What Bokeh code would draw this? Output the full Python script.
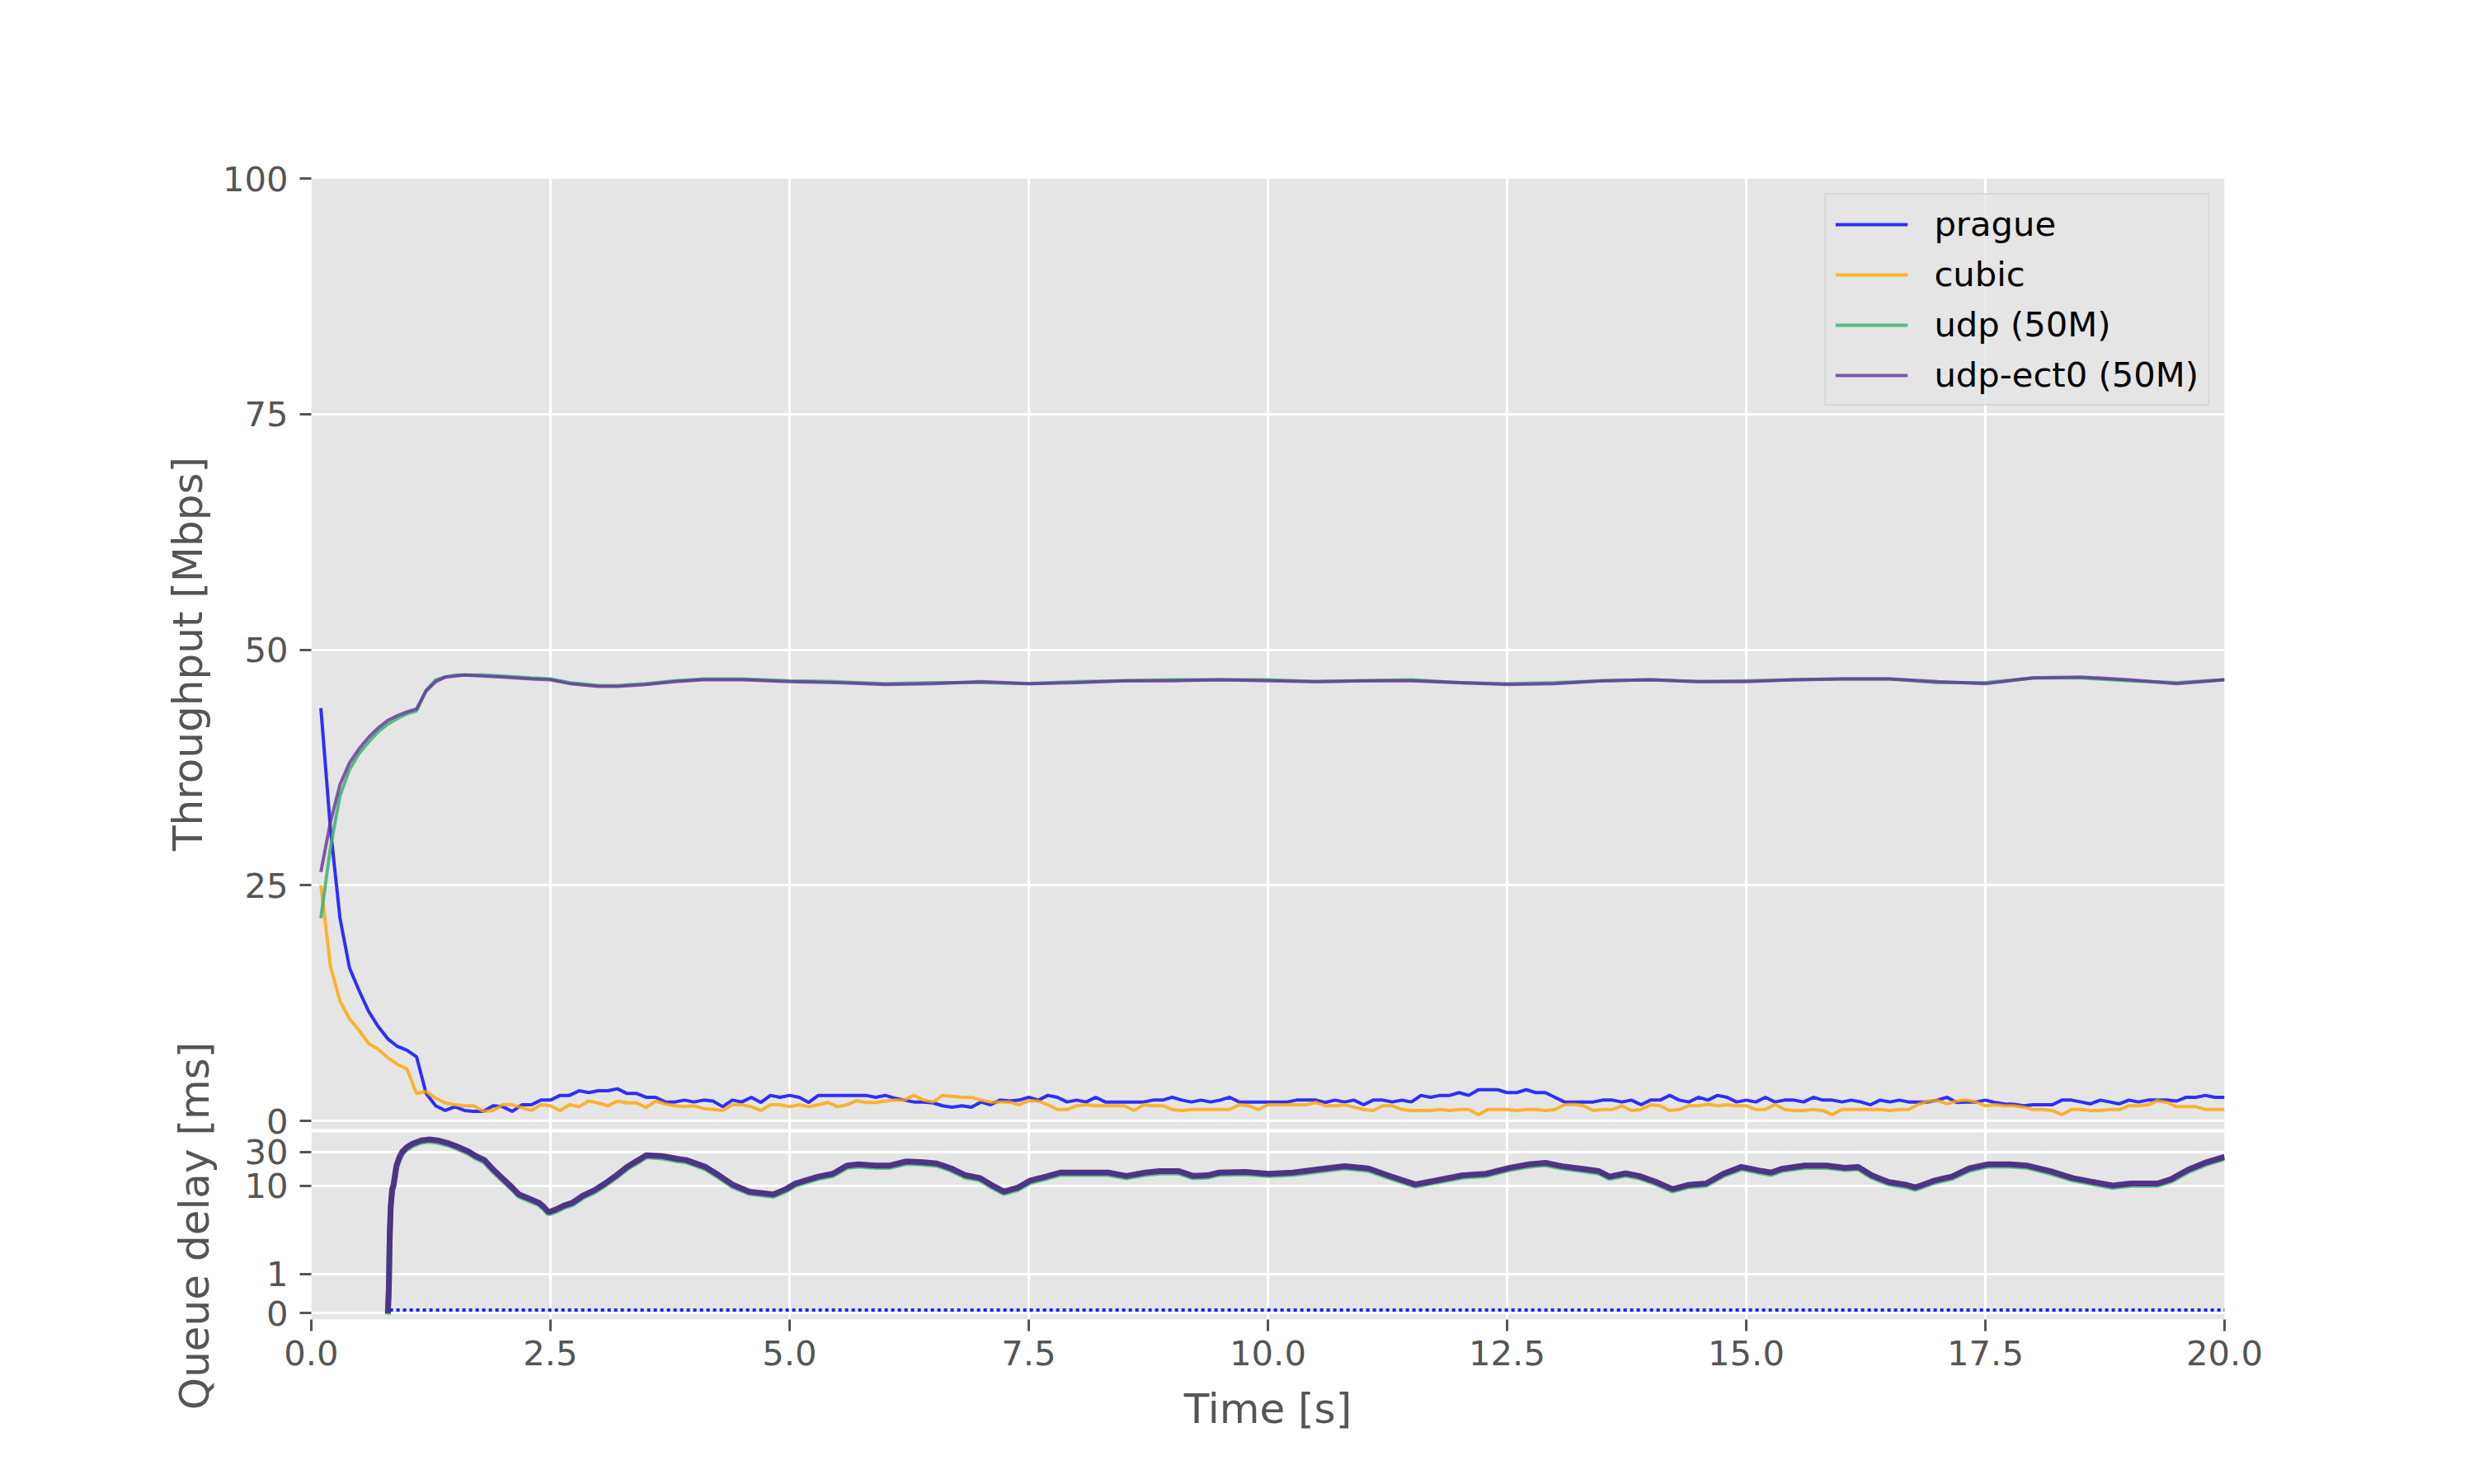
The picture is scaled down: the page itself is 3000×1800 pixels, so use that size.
import numpy as np
from bokeh.plotting import figure
from bokeh.layouts import row
from bokeh.models import (Range1d, FixedTicker, NumeralTickFormatter, CustomJSTickFormatter,
                          BoxAnnotation, Label, Legend, LegendItem)
from bokeh.embed import file_html
from bokeh.resources import INLINE

# ---------------- data ----------------
# throughput samples every 0.1 s (t = 0.1 ... 20.0)
time = [round(0.1 * i, 1) for i in range(1, 201)]

prague = [
    43.8, 31.0, 21.5, 16.2, 13.8, 11.6, 10.0, 8.7, 7.9, 7.5,
    6.8, 2.9, 1.6, 1.1, 1.5, 1.1, 1.0, 1.0, 1.6, 1.5,
    1.0, 1.7, 1.7, 2.2, 2.2, 2.7, 2.7, 3.2, 3.0, 3.2,
    3.2, 3.4, 2.9, 2.9, 2.5, 2.5, 2.0, 2.0, 2.2, 2.0,
    2.2, 2.1, 1.5, 2.2, 2.0, 2.5, 1.95, 2.7, 2.5, 2.7,
    2.5, 1.95, 2.7, 2.7, 2.7, 2.7, 2.7, 2.7, 2.5, 2.7,
    2.4, 2.2, 2.0, 2.0, 1.9, 1.6, 1.45, 1.6, 1.45, 2.0,
    1.7, 2.2, 2.1, 2.2, 2.5, 2.2, 2.7, 2.5, 2.0, 2.2,
    2.0, 2.5, 2.0, 2.0, 2.0, 2.0, 2.0, 2.2, 2.2, 2.5,
    2.2, 2.0, 2.2, 2.0, 2.2, 2.5, 2.0, 2.0, 2.0, 2.0,
    2.0, 2.0, 2.2, 2.2, 2.2, 1.95, 2.2, 2.0, 2.2, 1.7,
    2.2, 2.2, 2.0, 2.2, 2.0, 2.7, 2.5, 2.7, 2.7, 3.0,
    2.7, 3.3, 3.3, 3.3, 3.0, 3.0, 3.3, 3.0, 3.0, 2.5,
    2.0, 2.0, 2.0, 2.0, 2.2, 2.2, 2.0, 2.2, 1.7, 2.2,
    2.2, 2.7, 2.2, 2.0, 2.5, 2.2, 2.7, 2.5, 2.0, 2.2,
    2.0, 2.5, 2.0, 2.2, 2.2, 2.0, 2.5, 2.2, 2.2, 2.0,
    2.2, 2.0, 1.7, 2.2, 2.0, 2.2, 2.0, 2.0, 2.0, 2.2,
    2.5, 1.95, 2.0, 2.0, 2.2, 1.95, 1.8, 1.75, 1.6, 1.7,
    1.7, 1.7, 2.2, 2.2, 2.0, 1.8, 2.2, 2.0, 1.8, 2.2,
    2.0, 2.2, 2.2, 2.2, 2.1, 2.5, 2.5, 2.7, 2.5, 2.5,
]

cubic = [
    25.0, 16.4, 12.7, 10.8, 9.6, 8.2, 7.6, 6.7, 6.0, 5.5,
    2.9, 3.1, 2.4, 1.9, 1.7, 1.6, 1.6, 1.0, 1.1, 1.7,
    1.7, 1.4, 1.1, 1.7, 1.6, 1.1, 1.7, 1.5, 2.1, 1.9,
    1.6, 2.1, 1.9, 1.9, 1.4, 2.1, 1.8, 1.6, 1.5, 1.6,
    1.3, 1.2, 1.1, 1.7, 1.7, 1.5, 1.1, 1.7, 1.7, 1.5,
    1.7, 1.5, 1.7, 1.95, 1.5, 1.7, 2.15, 1.95, 1.95, 2.1,
    2.2, 2.2, 2.7, 2.2, 2.0, 2.7, 2.6, 2.5, 2.5, 2.2,
    2.0, 2.0, 2.0, 1.7, 2.15, 2.1, 1.7, 1.2, 1.2, 1.6,
    1.7, 1.6, 1.6, 1.6, 1.6, 1.1, 1.7, 1.6, 1.6, 1.2,
    1.1, 1.2, 1.2, 1.2, 1.2, 1.2, 1.7, 1.6, 1.2, 1.7,
    1.7, 1.7, 1.7, 1.7, 1.95, 1.6, 1.6, 1.7, 1.45, 1.2,
    1.1, 1.6, 1.6, 1.2, 1.1, 1.1, 1.1, 1.2, 1.1, 1.2,
    1.2, 0.65, 1.2, 1.2, 1.2, 1.1, 1.2, 1.2, 1.1, 1.2,
    1.7, 1.75, 1.6, 1.1, 1.2, 1.2, 1.6, 1.1, 1.2, 1.7,
    1.6, 1.1, 1.2, 1.6, 1.6, 1.75, 1.6, 1.7, 1.6, 1.6,
    1.2, 1.2, 1.75, 1.2, 1.1, 1.1, 1.2, 1.1, 0.65, 1.2,
    1.2, 1.2, 1.2, 1.2, 1.1, 1.2, 1.2, 1.75, 2.1, 2.15,
    1.8, 2.1, 2.2, 2.0, 1.6, 1.7, 1.6, 1.6, 1.45, 1.2,
    1.2, 1.1, 0.65, 1.2, 1.2, 1.1, 1.1, 1.2, 1.2, 1.6,
    1.6, 1.7, 2.15, 1.95, 1.5, 1.5, 1.5, 1.2, 1.2, 1.2,
]

udp_time = [0.1, 0.2, 0.3, 0.4, 0.5, 0.6, 0.7, 0.8, 0.9, 1.0, 1.1, 1.2, 1.3, 1.4, 1.5,
            1.6, 1.8, 2.0, 2.3, 2.5, 2.7, 3.0, 3.2, 3.5, 3.8, 4.1, 4.5,
            5.0, 5.5, 6.0, 6.5, 7.0, 7.5, 8.0, 8.5, 9.0, 9.5, 10.0, 10.5, 11.0, 11.5,
            12.0, 12.5, 13.0, 13.5, 14.0, 14.5, 15.0, 15.5, 16.0, 16.5, 17.0, 17.5,
            18.0, 18.5, 19.0, 19.5, 20.0]
udp = [21.5, 29.0, 34.5, 37.3, 39.0, 40.2, 41.3, 42.1, 42.7, 43.2, 43.5, 45.7, 46.8, 47.1, 47.3,
       47.3, 47.3, 47.2, 47.0, 46.9, 46.5, 46.2, 46.2, 46.4, 46.7, 46.9, 46.9,
       46.7, 46.6, 46.4, 46.5, 46.5, 46.4, 46.6, 46.7, 46.8, 46.8, 46.8, 46.6, 46.7, 46.8,
       46.5, 46.4, 46.5, 46.7, 46.8, 46.6, 46.7, 46.8, 46.9, 46.9, 46.5, 46.5,
       47.0, 47.0, 46.7, 46.5, 46.8]
udp_ect0 = [26.4, 31.7, 35.7, 38.0, 39.5, 40.7, 41.7, 42.5, 43.0, 43.4, 43.7, 45.6, 46.6, 47.1, 47.2,
            47.3, 47.2, 47.1, 46.9, 46.8, 46.4, 46.1, 46.1, 46.3, 46.6, 46.8, 46.8,
            46.6, 46.5, 46.3, 46.4, 46.6, 46.4, 46.5, 46.7, 46.7, 46.8, 46.7, 46.6, 46.7, 46.7,
            46.5, 46.3, 46.4, 46.7, 46.8, 46.6, 46.6, 46.8, 46.9, 46.9, 46.6, 46.4,
            47.0, 47.1, 46.8, 46.4, 46.8]

# queue delay [ms] of the classic queue (udp / cubic / udp-ect0 packets)
qd_time = [0.80, 0.81, 0.82, 0.83, 0.845, 0.86, 0.89, 0.92, 0.95, 0.99, 1.06, 1.15, 1.23, 1.32,
           1.43, 1.52, 1.64, 1.72, 1.81, 1.89, 1.98, 2.10, 2.17, 2.27, 2.38, 2.43, 2.48, 2.56,
           2.64, 2.73, 2.84, 2.96, 3.07, 3.19, 3.30, 3.42, 3.50, 3.67, 3.82, 3.92, 4.12, 4.26,
           4.41, 4.58, 4.83, 4.96, 5.06, 5.30, 5.45, 5.60, 5.72, 5.90, 6.04, 6.22, 6.40, 6.54,
           6.69, 6.84, 6.99, 7.11, 7.24, 7.39, 7.51, 7.68, 7.83, 8.03, 8.33, 8.52, 8.72, 8.87,
           9.07, 9.22, 9.37, 9.49, 9.76, 10.01, 10.26, 10.50, 10.80, 11.05, 11.25, 11.54, 11.74,
           12.04, 12.28, 12.53, 12.73, 12.90, 13.08, 13.32, 13.46, 13.57, 13.74, 13.88, 14.06,
           14.23, 14.39, 14.58, 14.76, 14.95, 15.14, 15.26, 15.37, 15.61, 15.84, 16.03, 16.17,
           16.31, 16.49, 16.68, 16.77, 16.96, 17.15, 17.33, 17.52, 17.76, 17.94, 18.18, 18.41,
           18.60, 18.83, 19.02, 19.30, 19.44, 19.62, 19.81, 20.00]
qd_classic = [0.0, 0.6, 2.0, 5.0, 8.9, 10.2, 19.2, 25.1, 30.0, 34.3, 39.3, 43.8, 45.1, 43.8,
              40.0, 36.0, 30.6, 26.2, 23.0, 17.5, 13.4, 9.4, 7.5, 6.6, 5.7, 5.0, 4.2, 4.6,
              5.2, 5.7, 7.2, 8.6, 10.7, 14.0, 18.4, 23.0, 27.0, 26.2, 24.0, 23.0, 18.4, 14.0,
              10.2, 8.2, 7.5, 8.9, 10.7, 13.4, 14.7, 19.2, 20.0, 19.2, 19.2, 22.0, 21.4, 20.6,
              17.5, 14.0, 12.8, 10.2, 8.2, 9.4, 11.7, 13.4, 15.3, 15.3, 15.3, 13.7, 15.3, 16.0,
              16.0, 13.7, 14.0, 15.3, 15.6, 14.7, 15.3, 16.8, 18.8, 17.5, 14.0, 10.4, 11.7,
              14.0, 14.7, 17.9, 20.0, 21.0, 18.8, 17.0, 16.0, 13.4, 14.9, 13.7, 11.2,
              8.9, 10.2, 10.7, 14.7, 18.4, 16.3, 15.3, 17.3, 19.2, 19.2, 17.9, 18.4,
              14.0, 11.2, 10.2, 9.4, 11.7, 13.4, 17.5, 20.0, 20.0, 19.2, 16.0, 12.8,
              11.4, 10.0, 10.7, 10.7, 12.3, 16.8, 21.4, 25.6]
# queue delay [ms] of the L4S queue (prague packets)
qd_l4s_time = [0.82, 20.0]
qd_l4s = [0.08, 0.08]

x_ticks = [0.0, 2.5, 5.0, 7.5, 10.0, 12.5, 15.0, 17.5, 20.0]
tp_ticks = [0, 25, 50, 75, 100]
qd_ticks = [0, 1, 10, 30]

# ---------------- layout (pixels of the 3000x1800 page) ----------------
W, H = 3000, 1800
LABEL_W = 266                       # strip on the left holding the y titles
FRAME_L, FRAME_R, FRAME_T, FRAME_B = 377, 2697, 216, 1600
TP_ZERO_PX = 1359.0                 # throughput 0 line
TOP_PANEL_BOTTOM_PX = 1369.0
BOT_PANEL_TOP_PX = 1373.0
Q_ZERO_PX = 1592.3                  # queue delay 0 line
Q_PX_PER_UNIT = 85.5                # per symlog unit
PX_PER_MBPS = (TP_ZERO_PX - FRAME_T) / 100.0
Y_LO = -(FRAME_B - TP_ZERO_PX) / PX_PER_MBPS

FONT = "DejaVu Sans"
GREY_TXT = "#555555"


def px_to_y(px):
    return (TP_ZERO_PX - px) / PX_PER_MBPS


def symlog(v, linthresh=2.0, base=10.0, linscale=1.0):
    v = np.asarray(v, dtype=float)
    ls = linscale / (1.0 - 1.0 / base)
    a = np.abs(v)
    out = np.where(a <= linthresh, a / linthresh * ls,
                   ls + np.log10(np.maximum(a, 1e-12) / linthresh) / np.log10(base))
    return np.sign(v) * out


def qd_to_y(v):
    return px_to_y(Q_ZERO_PX - Q_PX_PER_UNIT * symlog(v))


p = figure(frame_width=FRAME_R - FRAME_L, frame_height=FRAME_B - FRAME_T,
           min_border_left=FRAME_L - LABEL_W, min_border_right=W - FRAME_R,
           min_border_top=FRAME_T, min_border_bottom=H - FRAME_B,
           x_range=Range1d(0, 20), y_range=Range1d(Y_LO, 100),
           output_backend="svg", toolbar_location=None,
           background_fill_color="white", border_fill_color="white",
           outline_line_color=None)

# panel backgrounds (ggplot grey)
p.add_layout(BoxAnnotation(left=0, right=20, bottom=px_to_y(TOP_PANEL_BOTTOM_PX), top=100,
                           fill_color="#E5E5E5", fill_alpha=1.0, line_color=None, level="image"))
p.add_layout(BoxAnnotation(left=0, right=20, bottom=Y_LO, top=px_to_y(BOT_PANEL_TOP_PX),
                           fill_color="#E5E5E5", fill_alpha=1.0, line_color=None, level="image"))

# throughput lines
r_prague = p.line(time, prague, line_color="blue", line_alpha=0.8, line_width=4)
r_cubic = p.line(time, cubic, line_color="orange", line_alpha=0.8, line_width=4)
r_udp = p.line(udp_time, udp, line_color="#3CB371", line_alpha=0.85, line_width=4)
r_ect0 = p.line(udp_time, udp_ect0, line_color="#663399", line_alpha=0.8, line_width=4)

# queue delay
p.line(qd_time, list(qd_to_y(qd_classic) - 0.15), line_color="#3CB371", line_width=7, line_alpha=0.8)
p.line(qd_time, list(qd_to_y(qd_classic)), line_color="#4E3386", line_width=7)
p.line(qd_l4s_time, list(qd_to_y(qd_l4s)), line_color="#1F1FFF", line_width=4, line_dash="4 4")

# axes
y_tick_pos = [float(v) for v in tp_ticks] + [float(v) for v in qd_to_y(qd_ticks)]
y_tick_lab = [str(v) for v in tp_ticks] + [str(v) for v in qd_ticks]

p.yaxis.ticker = FixedTicker(ticks=y_tick_pos)
p.yaxis.formatter = CustomJSTickFormatter(args=dict(pos=y_tick_pos, lab=y_tick_lab), code="""
let b = 0, d = Infinity;
for (let i = 0; i < pos.length; i++) { const e = Math.abs(pos[i] - tick); if (e < d) { d = e; b = i; } }
return lab[b];
""")
p.xaxis.ticker = FixedTicker(ticks=x_ticks)
p.xaxis.formatter = NumeralTickFormatter(format="0.0")
p.xaxis.axis_label = "Time [s]"

for ax in (p.xaxis[0], p.yaxis[0]):
    ax.axis_line_color = None
    ax.major_tick_out = 14
    ax.major_tick_in = 0
    ax.major_tick_line_color = GREY_TXT
    ax.major_tick_line_width = 3
    ax.minor_tick_line_color = None
    ax.major_label_text_font = FONT
    ax.major_label_text_font_size = "41.7px"
    ax.major_label_text_color = GREY_TXT
    ax.axis_label_text_font = FONT
    ax.axis_label_text_font_size = "50px"
    ax.axis_label_text_font_style = "normal"
    ax.axis_label_text_color = GREY_TXT
    ax.axis_label_standoff = 21
p.xaxis.major_label_standoff = 11
p.yaxis.major_label_standoff = 14

p.xgrid.grid_line_color = "white"
p.xgrid.grid_line_width = 3
p.ygrid.grid_line_color = "white"
p.ygrid.grid_line_width = 3

legend = Legend(items=[LegendItem(label="prague", renderers=[r_prague]),
                       LegendItem(label="cubic", renderers=[r_cubic]),
                       LegendItem(label="udp (50M)", renderers=[r_udp]),
                       LegendItem(label="udp-ect0 (50M)", renderers=[r_ect0])],
                location="top_right", margin=18, padding=11, spacing=12,
                glyph_width=88, glyph_height=40, label_height=40, label_standoff=32,
                label_text_font=FONT, label_text_font_size="41.7px", label_text_color="black",
                background_fill_color="#E5E5E5", background_fill_alpha=0.8,
                border_line_color="#CCCCCC", border_line_width=2)
p.add_layout(legend)

# left strip with the two y-axis titles (one per panel); data units = page pixels
# (y measured upward from the page bottom). Its frame top lines up with the main frame.
lf = figure(frame_width=LABEL_W, frame_height=H - FRAME_T,
            min_border_left=0, min_border_right=0, min_border_top=FRAME_T, min_border_bottom=0,
            x_range=Range1d(0, LABEL_W), y_range=Range1d(0, H - FRAME_T),
            x_axis_location=None, y_axis_location=None,
            output_backend="svg", toolbar_location=None,
            background_fill_color="white", border_fill_color="white",
            outline_line_color=None)
lf.grid.grid_line_color = None
lf.add_layout(Label(x=227, y=H - (FRAME_T + TOP_PANEL_BOTTOM_PX) / 2,
                    text="Throughput [Mbps]", angle=np.pi / 2, text_align="center",
                    text_baseline="middle", text_font=FONT, text_font_size="50px",
                    text_color=GREY_TXT))
lf.add_layout(Label(x=235, y=H - (BOT_PANEL_TOP_PX + FRAME_B) / 2,
                    text="Queue delay [ms]", angle=np.pi / 2, text_align="center",
                    text_baseline="middle", text_font=FONT, text_font_size="50px",
                    text_color=GREY_TXT))

layout = row(lf, p)
open("out.html", "w").write(file_html(layout, INLINE))
